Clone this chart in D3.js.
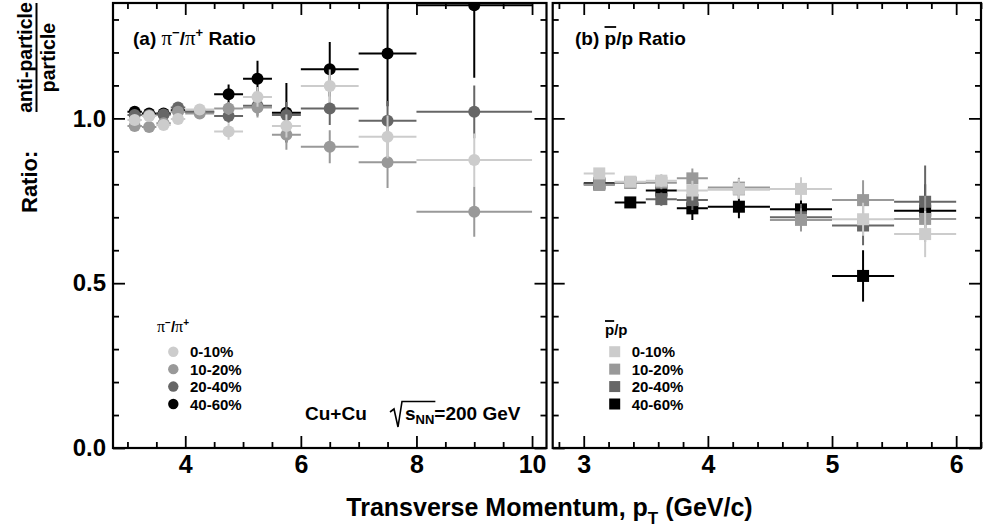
<!DOCTYPE html>
<html>
<head>
<meta charset="utf-8">
<script src="https://cdn.jsdelivr.net/npm/d3@7"></script>
<style>
	body { margin: 0; background: #fff; }
	text { font-family: "Liberation Sans", Arial, Helvetica, sans-serif; font-weight: bold; fill: #000; }
</style>
</head>
<body>
<svg id="chart" width="985" height="529"></svg>
<script>
// centrality classes, shared by both panels
var centralities = ["0-10%", "10-20%", "20-40%", "40-60%"];
var shades = ["#cccccc", "#999999", "#666666", "#000000"];
// peripheral drawn first, central last (on top)
var drawOrder = [3, 2, 1, 0];

// (a) pi-/pi+ : bin centres and half widths (GeV/c)
var pionPt = [3.125, 3.375, 3.625, 3.875, 4.25, 4.75, 5.25, 5.75, 6.5, 7.5, 9.0];
var pionHalf = [0.125, 0.125, 0.125, 0.125, 0.25, 0.25, 0.25, 0.25, 0.5, 0.5, 1.0];
var pion0to10 = [0.995, 1.007, 0.980, 0.998, 1.027, 0.960, 1.065, 0.977, 1.098, 0.944, 0.874];
var pion0to10Err = [0.008, 0.008, 0.008, 0.010, 0.012, 0.025, 0.030, 0.035, 0.050, 0.065, 0.080];
var pion10to20 = [0.977, 0.974, 0.985, 1.020, 1.015, 1.030, 1.033, 0.950, 0.914, 0.867, 0.717];
var pion10to20Err = [0.008, 0.008, 0.008, 0.010, 0.012, 0.020, 0.030, 0.045, 0.050, 0.078, 0.076];
var pion20to40 = [1.010, 1.010, 1.012, 1.033, 1.020, 1.007, 1.038, 1.010, 1.030, 0.993, 1.020];
var pion20to40Err = [0.008, 0.008, 0.008, 0.010, 0.012, 0.020, 0.030, 0.040, 0.050, 0.060, 0.080];
var pion40to60 = [1.020, 1.015, 1.015, 1.025, 1.020, 1.073, 1.120, 1.017, 1.149, 1.197, 1.343];
var pion40to60Err = [0.010, 0.010, 0.010, 0.012, 0.015, 0.030, 0.055, 0.090, 0.083, 0.160, 0.220];

// (b) pbar/p
var protonPt = [3.125, 3.375, 3.625, 3.875, 4.25, 4.75, 5.25, 5.75];
var protonHalf = [0.125, 0.125, 0.125, 0.125, 0.25, 0.25, 0.25, 0.25];
var proton0to10 = [0.833, 0.808, 0.811, 0.781, 0.786, 0.786, 0.694, 0.649];
var proton0to10Err = [0.015, 0.015, 0.020, 0.030, 0.030, 0.035, 0.050, 0.070];
var proton10to20 = [0.798, 0.805, 0.805, 0.818, 0.790, 0.692, 0.752, 0.695];
var proton10to20Err = [0.015, 0.015, 0.020, 0.030, 0.030, 0.035, 0.060, 0.070];
var proton20to40 = [0.800, 0.805, 0.755, 0.752, 0.785, 0.700, 0.675, 0.747];
var proton20to40Err = [0.015, 0.015, 0.020, 0.030, 0.030, 0.040, 0.060, 0.110];
var proton40to60 = [0.803, 0.745, 0.781, 0.727, 0.732, 0.724, 0.522, 0.720];
var proton40to60Err = [0.015, 0.015, 0.020, 0.035, 0.035, 0.040, 0.078, 0.080];

// axis ticks
var yMajor = [0, 0.5, 1.0];
var yMinor = [0.1, 0.2, 0.3, 0.4, 0.6, 0.7, 0.8, 0.9, 1.1, 1.2, 1.3];
var pionMajor = [4, 6, 8, 10];
var pionMinor = [3, 3.5, 4.5, 5, 5.5, 6.5, 7, 7.5, 8.5, 9, 9.5];
var protonMajor = [3, 4, 5, 6];
var protonMinor = [2.8, 3.2, 3.4, 3.6, 3.8, 4.2, 4.4, 4.6, 4.8, 5.2, 5.4, 5.6, 5.8, 6.2];

var svg = d3.select("#chart");
var top0 = 3, bottom0 = 448;

var y = d3.scaleLinear().domain([0, 1.35]).range([bottom0, top0]);

var panels = [
	{
		id: "a",
		x: d3.scaleLinear().domain([2.75, 10.25]).range([113, 546.5]),
		major: pionMajor, minor: pionMinor,
		pt: pionPt, half: pionHalf,
		series: [
			{ values: pion0to10, errors: pion0to10Err },
			{ values: pion10to20, errors: pion10to20Err },
			{ values: pion20to40, errors: pion20to40Err },
			{ values: pion40to60, errors: pion40to60Err }
		],
		shape: "circle",
		labels: true
	},
	{
		id: "b",
		x: d3.scaleLinear().domain([2.75, 6.2]).range([552.7, 981]),
		major: protonMajor, minor: protonMinor,
		pt: protonPt, half: protonHalf,
		series: [
			{ values: proton0to10, errors: proton0to10Err },
			{ values: proton10to20, errors: proton10to20Err },
			{ values: proton20to40, errors: proton20to40Err },
			{ values: proton40to60, errors: proton40to60Err }
		],
		shape: "square",
		labels: false
	}
];

var styleAxis = function(g, fontSize) {
	g.select(".domain").remove();
	g.selectAll(".tick line").attr("stroke", "#000").attr("stroke-width", 1.8);
	g.selectAll(".tick text")
		.attr("font-family", "Liberation Sans, Arial, sans-serif")
		.attr("font-weight", "bold")
		.attr("font-size", fontSize || 24)
		.attr("fill", "#000");
};

panels.forEach(function(p) {
	var x = p.x;
	var x0 = x.range()[0], x1 = x.range()[1];
	var g = svg.append("g").attr("class", "panel-" + p.id);

	svg.append("clipPath").attr("id", "clip-" + p.id)
		.append("rect")
		.attr("x", x0).attr("y", top0)
		.attr("width", x1 - x0).attr("height", bottom0 - top0);

	// axes, all ticks point inward
	g.append("g").attr("transform", "translate(0," + bottom0 + ")")
		.call(d3.axisBottom(x).tickValues(p.major).tickSize(-12).tickPadding(7).tickFormat(d3.format("d")))
		.call(function(a) { styleAxis(a, 25); });
	g.append("g").attr("transform", "translate(0," + bottom0 + ")")
		.call(d3.axisBottom(x).tickValues(p.minor).tickSize(-6).tickFormat(""))
		.call(styleAxis);
	g.append("g").attr("transform", "translate(0," + top0 + ")")
		.call(d3.axisTop(x).tickValues(p.major).tickSize(-12).tickFormat(""))
		.call(styleAxis);
	g.append("g").attr("transform", "translate(0," + top0 + ")")
		.call(d3.axisTop(x).tickValues(p.minor).tickSize(-6).tickFormat(""))
		.call(styleAxis);

	var left = d3.axisLeft(y).tickValues(yMajor).tickSize(-12).tickPadding(7);
	left.tickFormat(p.labels ? d3.format(".1f") : "");
	g.append("g").attr("transform", "translate(" + x0 + ",0)").call(left).call(function(a) { styleAxis(a, 24); });
	g.append("g").attr("transform", "translate(" + x0 + ",0)")
		.call(d3.axisLeft(y).tickValues(yMinor).tickSize(-6).tickFormat(""))
		.call(styleAxis);
	g.append("g").attr("transform", "translate(" + x1 + ",0)")
		.call(d3.axisRight(y).tickValues(yMajor).tickSize(-12).tickFormat(""))
		.call(styleAxis);
	g.append("g").attr("transform", "translate(" + x1 + ",0)")
		.call(d3.axisRight(y).tickValues(yMinor).tickSize(-6).tickFormat(""))
		.call(styleAxis);

	// data
	var plot = g.append("g").attr("clip-path", "url(#clip-" + p.id + ")");
	drawOrder.forEach(function(si) {
		var s = p.series[si];
		var color = shades[si];
		var sg = plot.append("g");
		var rows = p.pt.map(function(pt, i) {
			return { pt: pt, half: p.half[i], v: s.values[i], e: s.errors[i] };
		});
		sg.selectAll(".xerr").data(rows).enter().append("line")
			.attr("x1", function(d) { return x(d.pt - d.half); })
			.attr("x2", function(d) { return x(d.pt + d.half); })
			.attr("y1", function(d) { return y(d.v); })
			.attr("y2", function(d) { return y(d.v); })
			.attr("stroke", color).attr("stroke-width", 2);
		sg.selectAll(".yerr").data(rows).enter().append("line")
			.attr("x1", function(d) { return x(d.pt); })
			.attr("x2", function(d) { return x(d.pt); })
			.attr("y1", function(d) { return y(d.v - d.e); })
			.attr("y2", function(d) { return y(d.v + d.e); })
			.attr("stroke", color).attr("stroke-width", 2);
		if (p.shape == "circle") {
			sg.selectAll("circle").data(rows).enter().append("circle")
				.attr("cx", function(d) { return x(d.pt); })
				.attr("cy", function(d) { return y(d.v); })
				.attr("r", 6)
				.attr("fill", color);
		}
		else {
			sg.selectAll("rect").data(rows).enter().append("rect")
				.attr("x", function(d) { return x(d.pt) - 6; })
				.attr("y", function(d) { return y(d.v) - 6; })
				.attr("width", 12).attr("height", 12)
				.attr("fill", color);
		}
	});

	// frame
	g.append("rect")
		.attr("x", x0).attr("y", top0)
		.attr("width", x1 - x0).attr("height", bottom0 - top0)
		.attr("fill", "none").attr("stroke", "#000").attr("stroke-width", 2.2);
});

// panel titles
var titleA = svg.append("text").attr("x", 133).attr("y", 45).attr("font-size", 19);
titleA.append("tspan").text("(a) ");
titleA.append("tspan").attr("font-family", "Liberation Serif, serif").attr("font-weight", "normal").attr("font-size", 21).text("π");
titleA.append("tspan").attr("dy", -8).attr("font-size", 13).text("−");
titleA.append("tspan").attr("dy", 8).text("/");
titleA.append("tspan").attr("font-family", "Liberation Serif, serif").attr("font-weight", "normal").attr("font-size", 21).text("π");
titleA.append("tspan").attr("dy", -8).attr("font-size", 13).text("+");
titleA.append("tspan").attr("dy", 8).text(" Ratio");

var overlineChar = function(textEl, index, gap) {
	var node = textEl.node();
	var a = node.getStartPositionOfChar(index), b = node.getEndPositionOfChar(index);
	var box = node.getBBox();
	svg.append("line")
		.attr("x1", a.x).attr("x2", b.x)
		.attr("y1", box.y + gap).attr("y2", box.y + gap)
		.attr("stroke", "#000").attr("stroke-width", 1.8);
};

var titleB = svg.append("text").attr("x", 575).attr("y", 45).attr("font-size", 19).text("(b) p/p Ratio");
overlineChar(titleB, 4, -1);

// legends
var pionLegend = svg.append("text").attr("x", 157).attr("y", 332).attr("font-size", 15);
pionLegend.append("tspan").attr("font-family", "Liberation Serif, serif").attr("font-weight", "normal").attr("font-size", 16).text("π");
pionLegend.append("tspan").attr("dy", -6).attr("font-size", 10).text("−");
pionLegend.append("tspan").attr("dy", 6).text("/");
pionLegend.append("tspan").attr("font-family", "Liberation Serif, serif").attr("font-weight", "normal").attr("font-size", 16).text("π");
pionLegend.append("tspan").attr("dy", -6).attr("font-size", 10).text("+");

var legendY = d3.scalePoint().domain(centralities).range([351.7, 404]);

var la = svg.append("g");
la.selectAll("circle").data(centralities).enter().append("circle")
	.attr("cx", 173.3).attr("cy", function(d) { return legendY(d); })
	.attr("r", 5.2).attr("fill", function(d, i) { return shades[i]; });
la.selectAll("text").data(centralities).enter().append("text")
	.attr("x", 190).attr("y", function(d) { return legendY(d) + 5.5; })
	.attr("font-size", 15).text(function(d) { return d; });

var protonLegend = svg.append("text").attr("x", 605).attr("y", 335).attr("font-size", 15).text("p/p");
overlineChar(protonLegend, 0, 0);

var lb = svg.append("g");
lb.selectAll("rect").data(centralities).enter().append("rect")
	.attr("x", 609.2).attr("y", function(d) { return legendY(d) - 5.5; })
	.attr("width", 11).attr("height", 11)
	.attr("fill", function(d, i) { return shades[i]; });
lb.selectAll("text").data(centralities).enter().append("text")
	.attr("x", 631.7).attr("y", function(d) { return legendY(d) + 5.5; })
	.attr("font-size", 15).text(function(d) { return d; });

// system label
svg.append("text").attr("x", 305).attr("y", 420).attr("font-size", 19).text("Cu+Cu");
var energy = svg.append("text").attr("x", 405).attr("y", 420).attr("font-size", 19);
energy.append("tspan").text("s");
energy.append("tspan").attr("dy", 4).attr("font-size", 13).text("NN");
energy.append("tspan").attr("dy", -4).text("=200 GeV");
var rootEnd = energy.node().getEndPositionOfChar(2).x;
svg.append("path")
	.attr("d", "M390,412 L394,409 L398,427 L402,401.5 L" + (rootEnd + 1) + ",401.5")
	.attr("fill", "none").attr("stroke", "#000").attr("stroke-width", 1.6);

// axis titles
svg.append("text").attr("x", 549.5).attr("y", 516).attr("text-anchor", "middle").attr("font-size", 25)
	.call(function(t) {
		t.append("tspan").text("Transverse Momentum, p");
		t.append("tspan").attr("dy", 8).attr("font-size", 17).text("T");
		t.append("tspan").attr("dy", -8).text(" (GeV/c)");
	});

var yTitle = svg.append("g");
yTitle.append("text").attr("transform", "translate(37,213) rotate(-90)").attr("font-size", 22).text("Ratio:");
yTitle.append("text").attr("transform", "translate(32,57.5) rotate(-90)").attr("text-anchor", "middle").attr("font-size", 19.5).text("anti-particle");
yTitle.append("text").attr("transform", "translate(55,57.5) rotate(-90)").attr("text-anchor", "middle").attr("font-size", 19.5).text("particle");
yTitle.append("line").attr("x1", 36.5).attr("x2", 36.5).attr("y1", 3).attr("y2", 112)
	.attr("stroke", "#000").attr("stroke-width", 2);
</script>
</body>
</html>
